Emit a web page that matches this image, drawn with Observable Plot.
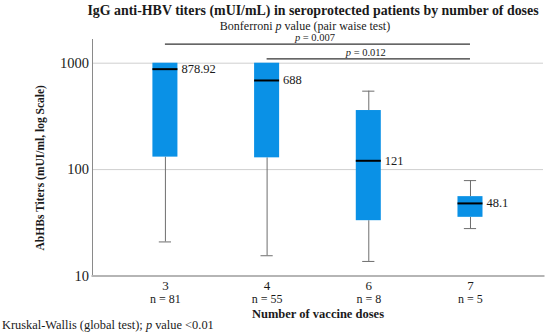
<!DOCTYPE html>
<html><head><meta charset="utf-8">
<script src="https://cdn.jsdelivr.net/npm/d3@7"></script>
<script src="https://cdn.jsdelivr.net/npm/@observablehq/plot@0.6"></script>
<style>
body{margin:0;background:#fff;}
#wrap{position:relative;width:550px;height:334px;overflow:hidden;font-family:"Liberation Serif",serif;color:#1a1a1a;background:#fff;}
.t{position:absolute;white-space:nowrap;transform:translateX(-50%);}
#title{left:313px;top:3px;font-size:13.9px;font-weight:bold;line-height:16px;}
#sub{left:305px;top:21px;font-size:12px;line-height:11px;}
#chart{position:absolute;left:0;top:22px;}
#chart svg{background:transparent !important;}
#chart svg, #chart text{font-family:"Liberation Serif",serif !important;}
#cap{position:absolute;left:2px;top:318px;font-size:12.4px;line-height:14px;white-space:nowrap;}
</style></head>
<body><div id="wrap">
<div id="chart"></div>
<div id="title" class="t">IgG anti-HBV titers (mUI/mL) in seroprotected patients by number of doses</div>
<div id="sub" class="t">Bonferroni <i>p</i> value (pair waise test)</div>
<div id="cap">Kruskal-Wallis (global test); <i>p</i> value &lt;0.01</div>
</div>
<script>
// ---- data ----
const doses = ["3", "4", "6", "7"];
const nCounts = [81, 55, 8, 5];
const whiskerLow = [20.9, 15.5, 13.7, 27.9];
const q1 = [131, 129, 33.1, 35.6];
const medians = [878.92, 688, 121, 48.1];
const q3 = [1000, 1000, 359, 55.7];
const whiskerHigh = [1000, 1000, 546, 78.8];
const medianLabels = ["878.92", "688", "121", "48.1"];
const yTicks = [10, 100, 1000];
const compareFrom = ["3", "4"];
const compareTo = ["7", "7"];
const compareP = ["0.007", "0.012"];
const compareLevel = [1509, 1100];

// ---- derived tables ----
const rows = doses.map((d, i) => ({
  i, dose: d, n: nCounts[i], low: whiskerLow[i], q1: q1[i], median: medians[i],
  q3: q3[i], high: whiskerHigh[i], label: medianLabels[i]
}));
const brackets = compareFrom.map((f, k) => ({
  fromI: doses.indexOf(f), toI: doses.indexOf(compareTo[k]),
  text: "p = " + compareP[k], level: compareLevel[k]
}));

const HALF = 0.123, CAP = 0.06;
const blue = "#0a91e6", whisk = "#6e6e6e", ink = "#1a1a1a";

const chart = Plot.plot({
  width: 550, height: 312,
  marginTop: 17, marginBottom: 58.5, marginLeft: 92, marginRight: 7,
  style: {fontFamily: "Liberation Serif, serif", color: ink, background: "transparent", overflow: "visible"},
  x: {type: "linear", domain: [-0.717, 3.718], axis: null},
  y: {type: "log", domain: [10, 1670], axis: null},
  marks: [
    Plot.gridY(yTicks.slice(1), {stroke: "#cfcfcf", strokeOpacity: 1}),
    Plot.frame({anchor: "left", stroke: "#8a8a8a"}),
    Plot.frame({anchor: "bottom", stroke: "#b5b5b5", strokeWidth: 2}),
    Plot.ruleX(rows, {x: "i", y1: "low", y2: "q1", stroke: whisk}),
    Plot.ruleX(rows.filter(d => d.high > d.q3), {x: "i", y1: "q3", y2: "high", stroke: whisk}),
    Plot.ruleY(rows, {y: "low", x1: d => d.i - CAP, x2: d => d.i + CAP, stroke: whisk}),
    Plot.ruleY(rows.filter(d => d.high > d.q3), {y: "high", x1: d => d.i - CAP, x2: d => d.i + CAP, stroke: whisk}),
    Plot.rectY(rows, {x1: d => d.i - HALF, x2: d => d.i + HALF, y1: "q1", y2: "q3", fill: blue}),
    Plot.ruleY(rows, {y: "median", x1: d => d.i - HALF, x2: d => d.i + HALF, stroke: "#000", strokeWidth: 2}),
    Plot.text(rows, {x: "i", y: "median", text: "label", textAnchor: "start", dx: 16, fontSize: 12.5, fill: ink}),
    Plot.text(rows, {x: "i", text: d => "n = " + d.n, frameAnchor: "bottom", lineAnchor: "middle", dy: 23.5, fontSize: 12, fill: ink}),
    Plot.ruleY(brackets, {y: "level", x1: "fromI", x2: "toI", stroke: "#333", strokeWidth: 1.3}),
    Plot.text(brackets, {x: d => (d.fromI + d.toI) / 2, y: "level", text: "text", dx: -3, dy: -6.5, fontSize: 10.5, fill: ink}),
    Plot.axisY(yTicks, {tickSize: 0, tickPadding: 3.5, fontSize: 14.5, tickFormat: d => String(d), label: null}),
    Plot.axisX(rows.map(d => d.i), {tickSize: 0, tickPadding: 4.5, fontSize: 13, tickFormat: i => doses[i], label: null}),
    Plot.text(["AbHBs Titers (mUI/ml, log Scale)"], {frameAnchor: "left", textAnchor: "middle", lineAnchor: "middle", rotate: -90, dx: -52, dy: 10, fontWeight: "bold", fontSize: 11.5, fill: ink}),
    Plot.text(["Number of vaccine doses"], {frameAnchor: "bottom", textAnchor: "middle", lineAnchor: "middle", dy: 38, fontWeight: "bold", fontSize: 12.5, fill: ink})
  ]
});
// italic "p" in the pairwise labels
const NS = "http://www.w3.org/2000/svg";
chart.querySelectorAll("text").forEach(t => {
  if (t.children.length === 0 && t.textContent.startsWith("p = ")) {
    const rest = t.textContent.slice(1);
    t.textContent = "";
    const ts = document.createElementNS(NS, "tspan");
    ts.setAttribute("font-style", "italic");
    ts.textContent = "p";
    t.appendChild(ts);
    t.appendChild(document.createTextNode(rest));
  }
});
document.getElementById("chart").appendChild(chart);
</script>
</body></html>
